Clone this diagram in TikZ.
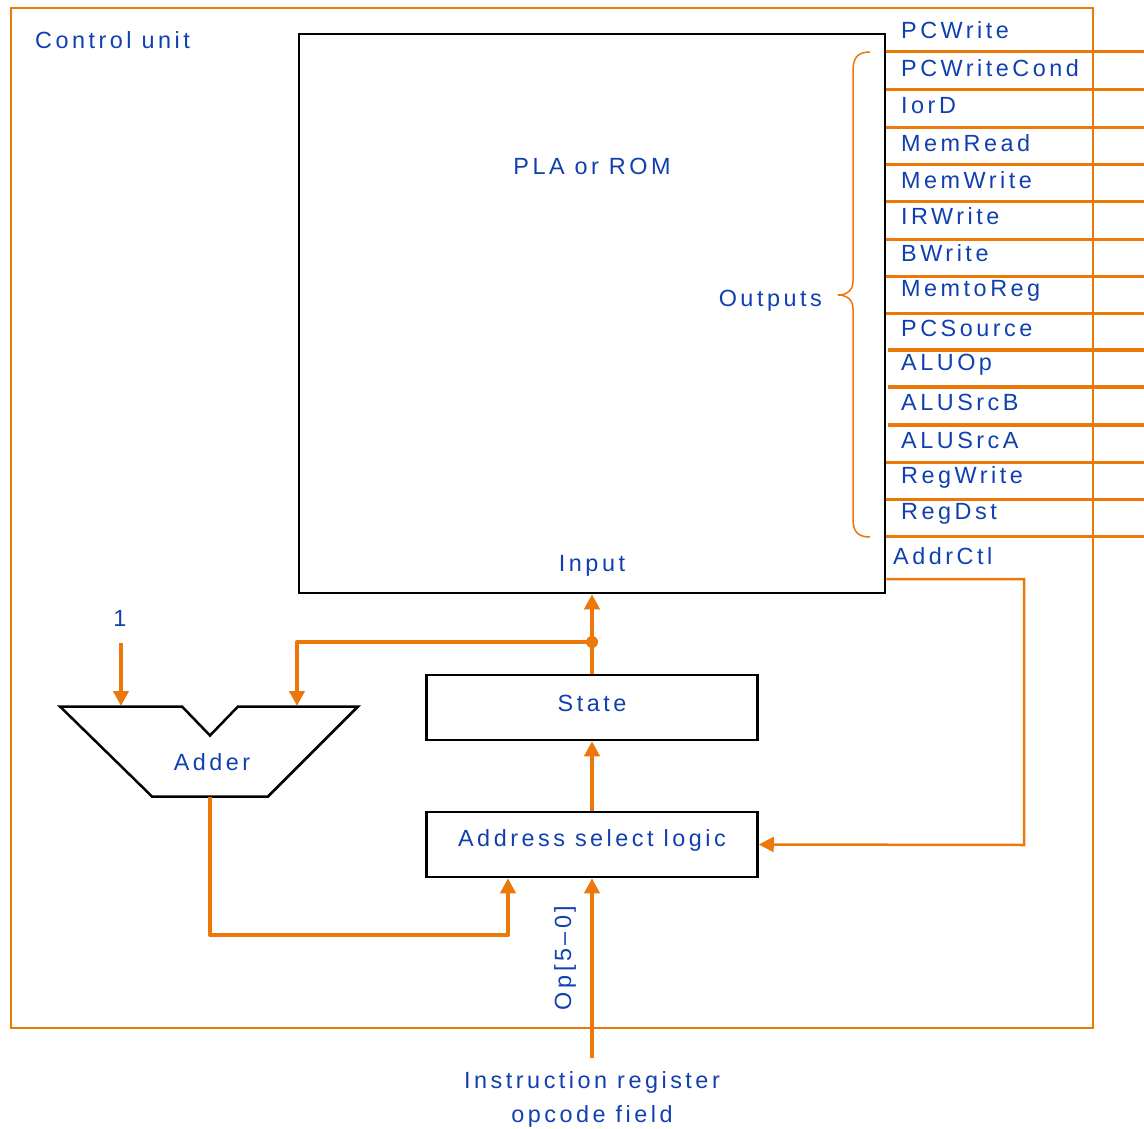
\documentclass[tikz,border=0pt]{standalone}
\usepackage{fontspec}
\setmainfont{Liberation Sans}[LetterSpace=15]
\usetikzlibrary{arrows.meta}
\definecolor{orng}{RGB}{236,120,10}
\definecolor{txtblue}{RGB}{16,64,176}
\newcommand{\lblfont}{\fontsize{23.4}{28}\selectfont}
\tikzset{
  wire/.style={draw=orng, line width=4pt},
  sig/.style={draw=orng, line width=3pt},
  sigthick/.style={draw=orng, line width=4.5pt},
  blk/.style={draw=black, line width=2.5pt, fill=white, inner sep=0pt},
  lbl/.style={text=txtblue, inner sep=0pt, font=\lblfont},
  arr/.style={-{Triangle[length=15pt,width=15pt]}},
}
\begin{document}
\begin{tikzpicture}[x=1pt,y=-1pt]
\useasboundingbox (0,0) rectangle (1144,1129);

% control unit frame
\draw[orng, line width=1.6pt] (11,8) rectangle (1093,1028);
\node[lbl, anchor=west] (cu) at (35,40) {Control unit};

% main blocks
\node[blk, minimum width=586pt, minimum height=559pt] (pla) at (592,313.5) {};
\node[blk, minimum width=331pt, minimum height=65pt] (state) at (592,707.5) {};
\node[blk, minimum width=331pt, minimum height=65pt] (asl) at (592,844.5) {};
\node[lbl] (plalbl) at (592,166) {PLA or ROM};
\node[lbl] (inlbl) at (592,566) {Input};
\node[lbl] (statelbl) at (592,703) {State};
\node[lbl] (asllbl) at (592,840) {Address select logic};

% output signals
\foreach \yy in {52,90,128,165,202,239,276,313,462,499,536}
  \draw[sig] (pla.east |- 0,\yy) -- (1144,\yy);
\foreach \yy in {350,387,425}
  \draw[sigthick] (888,\yy) -- (1144,\yy);
\foreach \txt/\yy in {PCWrite/30,PCWriteCond/68,IorD/106,MemRead/143,MemWrite/180,IRWrite/216,BWrite/253,MemtoReg/291,PCSource/328,ALUOp/365,ALUSrcB/402,ALUSrcA/440,RegWrite/477,RegDst/514}
  \node[lbl, anchor=west] (out-\txt) at (901,\yy) {\txt};
\node[lbl, anchor=west] (addrctl) at (893,556) {AddrCtl};

% brace grouping the outputs
\draw[orng, line width=1.5pt] (870,52) .. controls (857,52) and (853,58) .. (853,72)
  -- (853,281) .. controls (853,291) and (846,295) .. (838,295)
  .. controls (846,295) and (853,299) .. (853,309)
  -- (853,518) .. controls (853,531) and (857,537) .. (870,537);
\node[lbl, anchor=east] (outlbl) at (822,301) {Outputs};

% adder
\draw[black, line width=2.5pt, line join=miter] (60,706.5) -- (182,706.5) -- (210,735.5) -- (238,706.5)
  -- (358,706.5) -- (268,796.5) -- (152,796.5) -- cycle;
\node[lbl] (adder) at (212,762) {Adder};
\coordinate (adin1) at (121,706);
\coordinate (adin2) at (297,706);
\coordinate (adout) at (210,797);
\node[lbl] (one) at (120,618) {1};
\coordinate (onesrc) at (121,643);

% junction after the state register
\node[circle, fill=orng, inner sep=0pt, minimum size=12pt] (jn) at (592,642) {};

% connections
\draw[wire, arr] (state.north) -- (pla.south);
\draw[wire, arr, line join=round] (jn.center) -- (297,642) -- (adin2);
\draw[wire, arr] (onesrc) -- (adin1);
\draw[wire, arr] (asl.north) -- (state.south);
\draw[wire, arr, line join=round] (adout) -- (210,935) -| ([xshift=-84pt]asl.south);
\draw[orng, line width=2.5pt, arr] (pla.east |- 0,579) -- (1024,579) -- (1024,845) -- (asl.east);

% opcode input
\coordinate (opsrc) at (592,1058);
\draw[wire, arr] (opsrc) -- (asl.south);
\node[lbl, rotate=90] (oplbl) at (565,958) {Op[5–0]};
\node[lbl] (ir1) at (592,1082) {Instruction register};
\node[lbl] (ir2) at (592,1116) {opcode field};
\end{tikzpicture}
\end{document}
